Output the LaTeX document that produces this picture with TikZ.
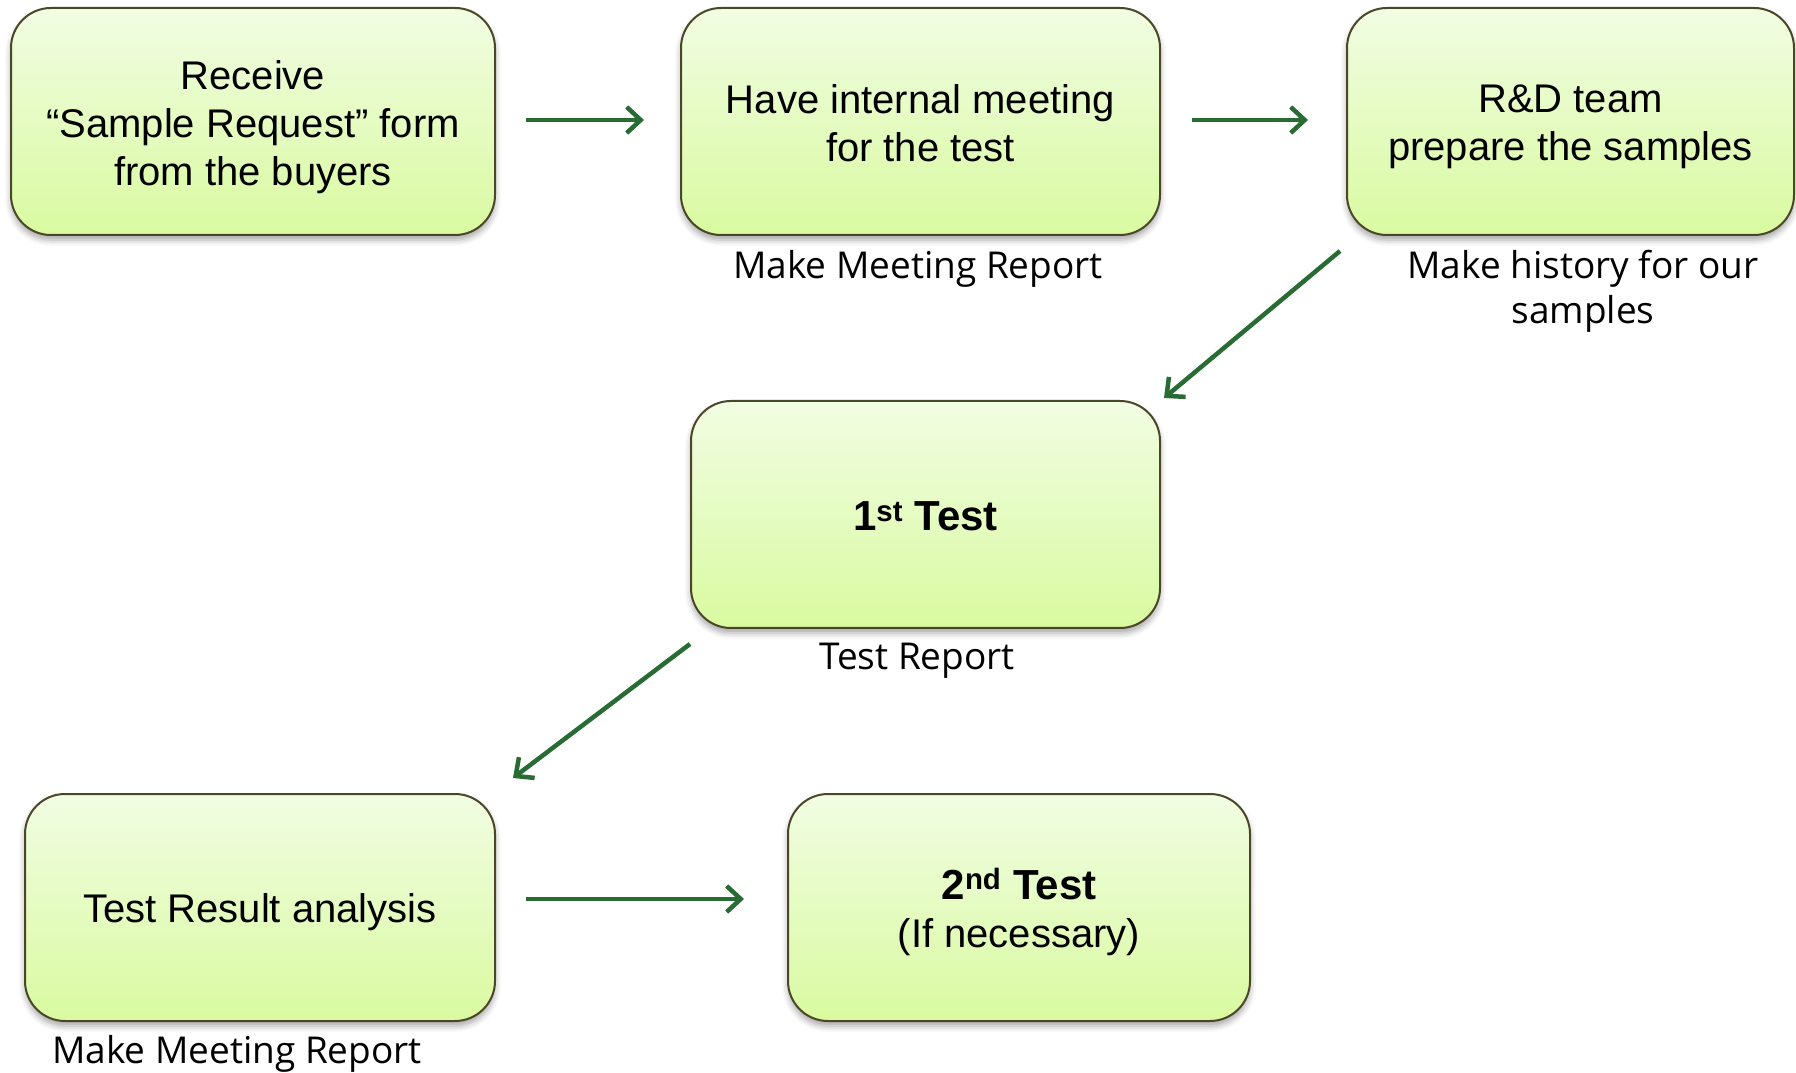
\documentclass[tikz,border=0pt]{standalone}
\usepackage{fontspec}
\setmainfont{Liberation Sans}
\newfontfamily\lblfont{Open Sans}
\usetikzlibrary{arrows.meta,calc,shadows.blur}
\definecolor{boxtop}{HTML}{F1FDE3}
\definecolor{boxbot}{HTML}{D9FAA0}
\definecolor{boxedge}{HTML}{4C4628}
\definecolor{arrgreen}{HTML}{286B33}
\begin{document}
\begin{tikzpicture}[x=1pt,y=1pt,
  box/.style={draw=boxedge, line width=2pt, rounded corners=40pt,
    top color=boxtop, bottom color=boxbot, inner sep=0pt,
    minimum height=227pt,
    blur shadow={shadow xshift=0pt, shadow yshift=-5pt, shadow blur radius=6pt, shadow opacity=35}},
  boxtext/.style={align=center, inner sep=0pt, font=\fontsize{40}{48}\selectfont},
  bigbold/.style={font=\fontsize{42}{48}\selectfont\bfseries},
  lbl/.style={align=center, inner sep=0pt, font=\lblfont\fontsize{37}{45}\selectfont},
  arr/.style={draw=arrgreen, line width=4.5pt, -{Straight Barb[length=14pt,width=26pt,line width=4.5pt]}}]
\useasboundingbox (0,0) rectangle (1796,1072);

\node[box, minimum width=484pt] (b1) at (253,950.5) {};
\node[box, minimum width=479pt] (b2) at (920.5,950.5) {};
\node[box, minimum width=447pt] (b3) at (1570.5,950.5) {};
\node[box, minimum width=469pt] (b4) at (925.5,557.5) {};
\node[box, minimum width=470pt] (b5) at (260,164.5) {};
\node[box, minimum width=462pt] (b6) at (1019,164.5) {};

\node[boxtext] (t1) at ($(b1.center)+(0,-5.5)$) {Receive\\``Sample Request'' form\\from the buyers};
\node[boxtext] (t2) at ($(b2.center)+(0,-2)$) {Have internal meeting\\for the test};
\node[boxtext] (t3) at ($(b3.center)+(0,-5)$) {R\&D team\\prepare the samples};
\node[boxtext, bigbold] (t4) at ($(b4.center)+(0,-2)$) {1\textsuperscript{st} Test};
\node[boxtext] (t5) at ($(b5.center)+(0,-4.5)$) {Test Result analysis};
\node[boxtext] (t6) at ($(b6.center)+(0,-4.5)$) {{\fontsize{42}{48}\selectfont\bfseries 2\textsuperscript{nd} Test}\\(If necessary)};

\node[lbl] (l1) at (918,803) {Make Meeting Report};
\node[lbl] (l2) at (1583,781) {Make history for our\\samples};
\node[lbl] (l3) at (917,411) {Test Report};
\node[lbl] (l4) at (237,18) {Make Meeting Report};

\draw[arr] ($(b1.east)+(30,1.5)$) -- ($(b2.west)+(-36,1.5)$);
\draw[arr] ($(b2.east)+(31,1.5)$) -- ($(b3.west)+(-38,1.5)$);
\draw[arr] ($(b3.south west)+(-6,-15)$) -- ($(b4.north east)+(3,2)$);
\draw[arr] ($(b4.south west)+(0,-15)$) -- ($(b5.north east)+(17,15)$);
\draw[arr] ($(b5.east)+(30,8.5)$) -- ($(b6.west)+(-43,8.5)$);
\end{tikzpicture}
\end{document}
